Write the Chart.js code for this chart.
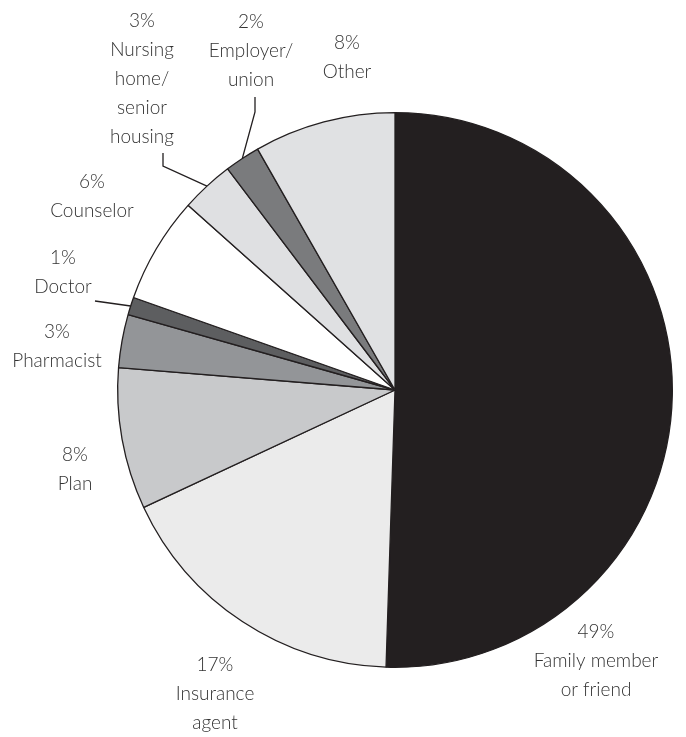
<!DOCTYPE html>
<html>
<head>
<meta charset="utf-8">
<script src="https://cdn.jsdelivr.net/npm/chart.js@4/dist/chart.umd.min.js"></script>
<style>
  html, body { margin: 0; padding: 0; background: #ffffff; }
  #wrap { width: 686px; height: 737px; position: relative; }
</style>
</head>
<body>
<div id="wrap"><canvas id="c" width="686" height="737"></canvas></div>
<script>
// ---- Data ----
const categories = [
  ["Family member", "or friend"],
  ["Insurance", "agent"],
  ["Plan"],
  ["Pharmacist"],
  ["Doctor"],
  ["Counselor"],
  ["Nursing", "home/", "senior", "housing"],
  ["Employer/", "union"],
  ["Other"]
];
const values = [49, 17, 8, 3, 1, 6, 3, 2, 8];
const sliceColors = ["#231f20", "#ebebeb", "#c8c9cb", "#939598", "#5d5e60", "#ffffff", "#dfe0e2", "#7a7b7d", "#e0e1e3"];

// ---- Label layout (text block centres and leader routes) ----
const labelLayout = [
  { x: 596, y: 632, leader: null },
  { x: 215, y: 665, leader: null },
  { x: 75,  y: 455, leader: null },
  { x: 57,  y: 332, leader: null },
  { x: 63,  y: 258, leader: [[95, 301]] },
  { x: 92,  y: 182, leader: null },
  { x: 142, y: 21,  leader: [[163, 153], [163, 166]] },
  { x: 251, y: 22,  leader: [[255, 97], [255, 112]] },
  { x: 347, y: 43,  leader: null }
];
const lineGap = 29;

const labelPlugin = {
  id: 'sliceLabels',
  afterDraw(chart) {
    const ctx = chart.ctx;
    const meta = chart.getDatasetMeta(0);
    ctx.save();
    ctx.font = '300 19px Lato, "Open Sans", sans-serif';
    ctx.fillStyle = '#333333';
    ctx.textAlign = 'center';
    ctx.textBaseline = 'middle';
    meta.data.forEach((arc, i) => {
      const p = arc.getProps(['x', 'y', 'startAngle', 'endAngle', 'outerRadius'], true);
      const lay = labelLayout[i];
      const lines = [values[i] + '%'].concat(categories[i]);
      lines.forEach((t, k) => ctx.fillText(t, lay.x, lay.y + k * lineGap));
      if (lay.leader) {
        const mid = (p.startAngle + p.endAngle) / 2;
        const ex = p.x + Math.cos(mid) * p.outerRadius;
        const ey = p.y + Math.sin(mid) * p.outerRadius;
        ctx.beginPath();
        ctx.strokeStyle = '#231f20';
        ctx.lineWidth = 1.3;
        ctx.moveTo(lay.leader[0][0], lay.leader[0][1]);
        for (let k = 1; k < lay.leader.length; k++) ctx.lineTo(lay.leader[k][0], lay.leader[k][1]);
        ctx.lineTo(ex, ey);
        ctx.stroke();
      }
    });
    ctx.restore();
  }
};

new Chart(document.getElementById('c'), {
  type: 'pie',
  data: {
    labels: categories.map(c => c.join(' ')),
    datasets: [{
      data: values,
      backgroundColor: sliceColors,
      borderColor: '#231f20',
      borderWidth: 1.3,
      borderAlign: 'center'
    }]
  },
  options: {
    responsive: false,
    animation: false,
    layout: { padding: { left: 117, right: 13, top: 112, bottom: 69 } },
    plugins: { legend: { display: false }, tooltip: { enabled: false } }
  },
  plugins: [labelPlugin]
});
</script>
</body>
</html>
